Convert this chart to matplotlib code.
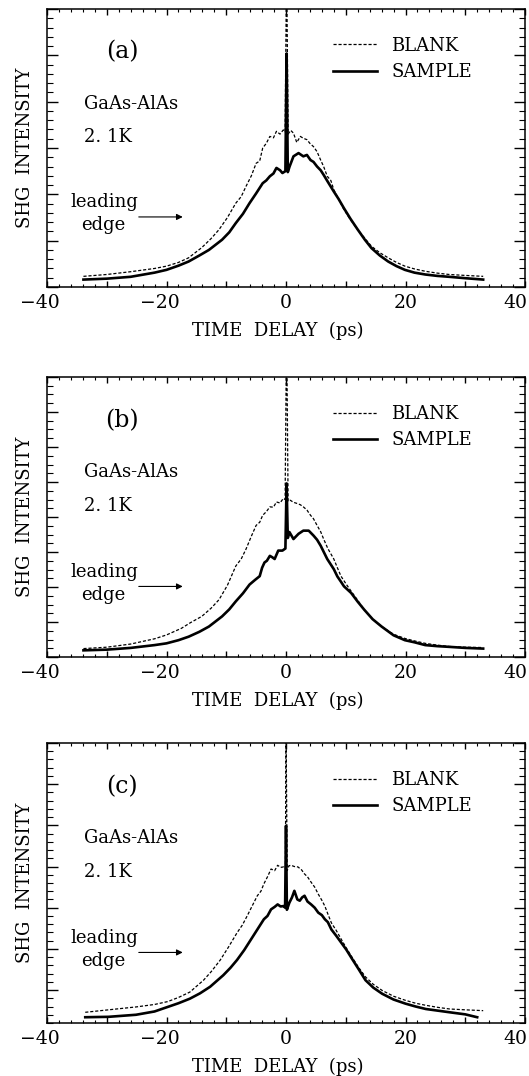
import numpy as np
import matplotlib
matplotlib.use("Agg")
import matplotlib.pyplot as plt
from matplotlib.ticker import MultipleLocator, FuncFormatter, NullFormatter
from matplotlib.transforms import ScaledTranslation

plt.rcParams['font.family'] = ['DejaVu Serif']
plt.rcParams['axes.unicode_minus'] = True

# ---- data (time delay in ps, intensity in arbitrary units) ----
t_a_blank = [-33.9, -30, -26, -22, -20, -18, -16.3, -14.1, -12.5, -11.2, -9.8, -8.4, -7.5, -6.7, -5.8,
             -5.0, -4.4, -3.9, -3.3, -2.7, -2.1, -1.6, -1.0, -0.45, -0.15, 0.1, 0.35, 0.8, 1.25, 1.8,
             2.4, 2.9, 3.5, 4.0, 4.6, 5.2, 5.8, 6.3, 6.9, 7.5, 8.0, 8.8, 9.7, 10.8, 12, 13.2, 14.3,
             15.7, 17.1, 18.5, 19.9, 21.5, 23.3, 25.3, 27.3, 30, 33]
v_a_blank = [0.23, 0.27, 0.33, 0.40, 0.45, 0.53, 0.63, 0.85, 1.05, 1.24, 1.50, 1.81, 1.95, 2.17, 2.40,
             2.67, 2.72, 3.00, 3.10, 3.25, 3.22, 3.36, 3.30, 3.39, 3.35, 7.0, 3.30, 3.38, 3.32, 3.12,
             3.25, 3.21, 3.18, 3.10, 3.03, 2.92, 2.74, 2.60, 2.39, 2.30, 2.10, 1.90, 1.67, 1.45, 1.24,
             1.05, 0.88, 0.74, 0.63, 0.53, 0.45, 0.39, 0.34, 0.30, 0.27, 0.25, 0.23]
t_a_sample = [-33.9, -30, -26, -22, -20, -18, -16.3, -14.5, -12.9, -10.7, -9.5, -8.4, -7.2, -6.1, -5,
              -3.9, -3.3, -2.7, -2.1, -1.6, -1.0, -0.6, -0.1, 0.1, 0.3, 0.6, 1.25, 2.1, 2.9, 3.5, 4.1,
              4.6, 5.2, 5.8, 6.3, 7.0, 8.0, 8.8, 9.7, 10.8, 12, 13.2, 14.3, 15.7, 17.1, 18.5, 19.9,
              21.5, 23.3, 25.3, 27.3, 30, 33]
v_a_sample = [0.16, 0.18, 0.22, 0.31, 0.37, 0.46, 0.55, 0.68, 0.80, 1.02, 1.18, 1.38, 1.58, 1.81, 2.02,
              2.24, 2.30, 2.39, 2.45, 2.57, 2.52, 2.46, 2.50, 5.04, 2.48, 2.60, 2.82, 2.89, 2.82, 2.85,
              2.74, 2.70, 2.60, 2.52, 2.42, 2.27, 2.06, 1.90, 1.70, 1.47, 1.24, 1.02, 0.84, 0.68, 0.55,
              0.45, 0.37, 0.31, 0.27, 0.24, 0.22, 0.19, 0.16]

t_b_blank = [-33.9, -30, -26, -22, -20, -17.5, -16, -14.1, -12.5, -11.2, -9.8, -8.4, -7.5, -6.7, -5.8,
             -5, -4.4, -3.9, -3.3, -2.7, -2.1, -1.6, -1.0, -0.45, -0.15, 0.1, 0.35, 0.7, 1.25, 1.8,
             2.4, 2.9, 3.5, 4.1, 4.6, 5.2, 5.8, 6.3, 7.0, 8.0, 8.6, 9.2, 10.0, 10.9, 12, 13.1, 14.5,
             16, 18, 19.9, 21.5, 23.3, 25.3, 27.3, 30, 33]
v_b_blank = [0.24, 0.28, 0.37, 0.52, 0.63, 0.82, 0.98, 1.16, 1.40, 1.64, 2.05, 2.60, 2.80, 3.08, 3.45,
             3.76, 3.85, 4.05, 4.15, 4.29, 4.28, 4.43, 4.40, 4.53, 4.50, 9.5, 4.45, 4.48, 4.42, 4.39,
             4.35, 4.29, 4.20, 4.05, 3.95, 3.76, 3.58, 3.37, 3.10, 2.80, 2.55, 2.31, 2.10, 1.88, 1.62,
             1.35, 1.08, 0.87, 0.65, 0.53, 0.46, 0.39, 0.34, 0.30, 0.28, 0.27]
t_b_sample = [-33.9, -30, -26, -22, -20, -18, -16.3, -14.5, -12.9, -10.7, -9.5, -8.4, -7.2, -6.1, -5.2,
              -4.4, -4.0, -3.6, -3.2, -2.7, -2.3, -1.9, -1.3, -0.6, -0.1, 0.1, 0.3, 0.57, 1.25, 1.7,
              2.1, 2.9, 3.8, 4.6, 5.2, 5.8, 6.9, 8.0, 8.6, 9.2, 9.7, 10.9, 12, 13.1, 14.5, 16, 18,
              19.9, 21.5, 23.3, 25.3, 27.3, 30, 33]
v_b_sample = [0.19, 0.21, 0.26, 0.34, 0.39, 0.48, 0.58, 0.72, 0.87, 1.16, 1.36, 1.59, 1.82, 2.07, 2.20,
              2.31, 2.55, 2.70, 2.75, 2.89, 2.85, 2.80, 3.04, 3.04, 3.10, 4.96, 3.40, 3.57, 3.37, 3.45,
              3.52, 3.61, 3.61, 3.47, 3.35, 3.18, 2.80, 2.51, 2.30, 2.15, 2.02, 1.83, 1.58, 1.35, 1.08,
              0.87, 0.62, 0.48, 0.42, 0.34, 0.31, 0.29, 0.26, 0.24]

t_c_blank = [-33.6, -29.7, -25.1, -22, -19.8, -18, -16.1, -13.8, -12.5, -11, -9.6, -8.2, -7.3, -6.5,
             -5.6, -4.8, -4.2, -3.7, -3.1, -2.5, -1.9, -1.4, -0.9, -0.4, -0.1, 0.0, 0.2, 0.5, 0.85,
             1.4, 2.0, 2.6, 3.1, 3.6, 4.2, 4.8, 5.4, 6.0, 6.5, 7.0, 7.6, 8.4, 9.3, 10.1, 11, 12.1,
             13.3, 14.6, 16.1, 18, 20, 21.7, 23.4, 25.4, 27.4, 30, 33]
v_c_blank = [0.26, 0.32, 0.39, 0.45, 0.52, 0.62, 0.75, 1.04, 1.25, 1.53, 1.85, 2.19, 2.38, 2.60, 2.86,
             3.09, 3.20, 3.38, 3.55, 3.74, 3.70, 3.83, 3.78, 3.79, 3.75, 7.2, 3.70, 3.82, 3.83, 3.80,
             3.79, 3.72, 3.62, 3.55, 3.42, 3.30, 3.13, 2.98, 2.84, 2.65, 2.43, 2.25, 2.02, 1.82, 1.61,
             1.36, 1.12, 0.94, 0.79, 0.65, 0.55, 0.48, 0.43, 0.38, 0.34, 0.32, 0.30]
t_c_sample = [-33.6, -29.7, -25.1, -22, -19.8, -18, -16.1, -14.4, -12.7, -10.5, -9.3, -8.2, -7.0, -5.9,
              -4.8, -3.7, -3.1, -2.5, -1.9, -1.4, -0.9, -0.4, -0.15, 0.0, 0.15, 0.56, 1.0, 1.4, 1.9,
              2.3, 2.7, 3.1, 3.6, 4.2, 4.8, 5.4, 6.0, 6.5, 7.0, 7.6, 8.4, 9.3, 10.1, 11, 12.1, 13.3,
              14.6, 16.1, 18, 20, 21.7, 23.4, 25.4, 27.4, 30, 32]
v_c_sample = [0.14, 0.15, 0.20, 0.28, 0.39, 0.48, 0.59, 0.72, 0.88, 1.16, 1.34, 1.53, 1.77, 2.02, 2.27,
              2.52, 2.60, 2.76, 2.82, 2.88, 2.83, 2.84, 2.80, 4.79, 2.75, 2.92, 3.05, 3.21, 3.00, 2.97,
              3.05, 3.09, 2.95, 2.88, 2.80, 2.68, 2.62, 2.52, 2.45, 2.27, 2.12, 1.94, 1.78, 1.57, 1.32,
              1.04, 0.86, 0.71, 0.57, 0.47, 0.40, 0.34, 0.30, 0.26, 0.21, 0.14]

panels = [
    # name, blank, sample, ylim, major yticks, minor step
    ('(a)', (t_a_blank, v_a_blank), (t_a_sample, v_a_sample), (0, 6), np.arange(0, 6.01, 1), 0.2),
    ('(b)', (t_b_blank, v_b_blank), (t_b_sample, v_b_sample), (0, 8), np.arange(0, 8.01, 1), 0.25),
    ('(c)', (t_c_blank, v_c_blank), (t_c_sample, v_c_sample), (0, 6.8), np.arange(0.8, 6.81, 1), 0.2),
]

W, H = 529, 1076
fig = plt.figure(figsize=(W / 100, H / 100), dpi=100)
# axes boxes in pixels: (left, top, right, bottom)
boxes = [(47, 9, 525, 287), (47, 377, 525, 657), (47, 743, 525, 1023)]


def tick_label(x, pos):
    if abs(x % 20) < 1e-6:
        return '%d' % x if x >= 0 else '\u2212%d' % abs(x)
    return ''


for (name, blank, sample, ylim, ymaj, ymin_step), (l, t, r, b) in zip(panels, boxes):
    ax = fig.add_axes([l / W, 1 - b / H, (r - l) / W, (b - t) / H])

    ax.plot(blank[0], blank[1], color='black', lw=0.9, ls=(0, (2.5, 1.5)), label='BLANK')
    ax.plot(sample[0], sample[1], color='black', lw=1.9, label='SAMPLE')

    ax.set_xlim(-40, 40)
    ax.set_ylim(*ylim)
    ax.xaxis.set_major_locator(MultipleLocator(10))
    ax.xaxis.set_minor_locator(MultipleLocator(2))
    ax.xaxis.set_major_formatter(FuncFormatter(tick_label))
    ax.set_yticks(ymaj)
    ax.set_yticks(np.arange(ylim[0], ylim[1] + 1e-6, ymin_step), minor=True)
    ax.yaxis.set_major_formatter(NullFormatter())
    ax.tick_params(which='both', direction='in', top=True, right=True, colors='black')
    ax.tick_params(axis='x', which='major', length=4.5, width=1, pad=5, labelsize=13.5)
    ax.tick_params(axis='x', which='minor', length=2.5, width=0.8)
    ax.tick_params(axis='y', which='major', length=8, width=1)
    ax.tick_params(axis='y', which='minor', length=4.5, width=0.8)
    for sp in ax.spines.values():
        sp.set_linewidth(1.1)

    # digits sit centred on the tick, the minus sign hangs to the left;
    # the last label is pulled in so it stays inside the figure
    for lab, val in zip(ax.get_xticklabels(), ax.get_xticks()):
        if val < 0:
            lab.set_transform(lab.get_transform() + ScaledTranslation(-5 / 72, 0, fig.dpi_scale_trans))
        elif val >= 40:
            lab.set_transform(lab.get_transform() + ScaledTranslation(-7 / 72, 0, fig.dpi_scale_trans))

    ax.set_xlabel('TIME  DELAY  (ps)', fontsize=13)
    ax.xaxis.set_label_coords(0.483, -0.125)
    ax.set_ylabel('SHG  INTENSITY', fontsize=13)
    ax.yaxis.set_label_coords(-0.028, 0.5)

    ax.text(0.157, 0.845, name, transform=ax.transAxes, fontsize=17, ha='center', va='center')
    ax.text(0.077, 0.66, 'GaAs-AlAs', transform=ax.transAxes, fontsize=13, ha='left', va='center')
    ax.text(0.077, 0.54, '2. 1K', transform=ax.transAxes, fontsize=13, ha='left', va='center')
    ax.text(0.050, 0.305, 'leading', transform=ax.transAxes, fontsize=13, ha='left', va='center')
    ax.text(0.071, 0.222, 'edge', transform=ax.transAxes, fontsize=13, ha='left', va='center')
    ax.annotate('', xy=(0.284, 0.252), xytext=(0.192, 0.252), xycoords='axes fraction',
                arrowprops=dict(arrowstyle='-|>', lw=0.8, color='black', mutation_scale=9,
                                shrinkA=0, shrinkB=0))

    ax.legend(loc='upper left', bbox_to_anchor=(0.598, 0.9), frameon=False, fontsize=13,
              handlelength=2.45, handletextpad=0.8, labelspacing=0.45, borderpad=0,
              borderaxespad=0)

fig.savefig('out.png', dpi=100)
